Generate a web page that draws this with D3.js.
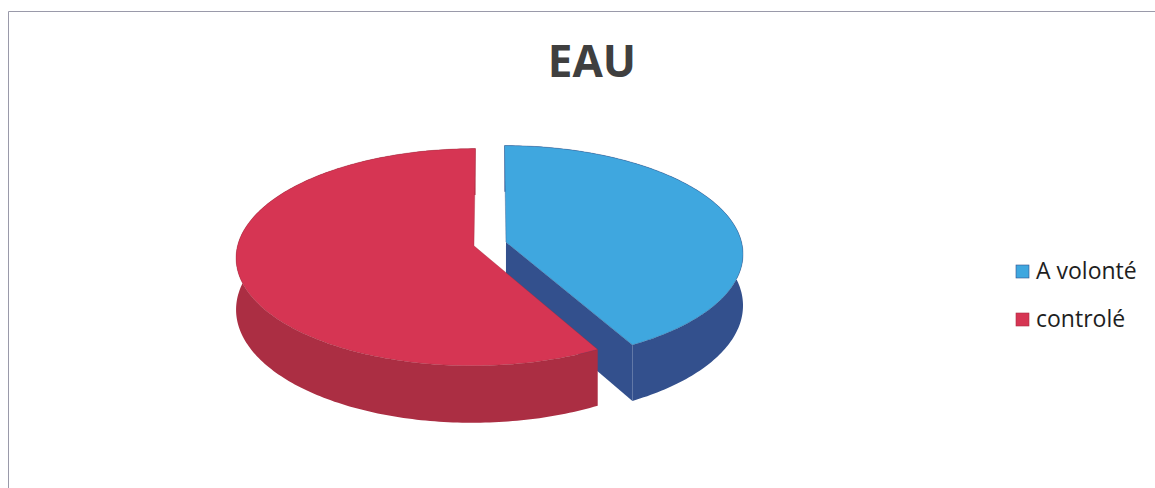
<!DOCTYPE html>
<html>
<head>
<meta charset="utf-8">
<script src="https://cdn.jsdelivr.net/npm/d3@7"></script>
<style>
  html, body { margin: 0; padding: 0; background: #fff; }
  svg { display: block; }
</style>
</head>
<body>
<svg id="chart" width="1155" height="488"></svg>
<script>

// données
const titre = "EAU";
const categories = ["A volonté", "controlé"];
const valeurs = [42, 58];
const couleursDessus = ["#3fa7df", "#d63553"];
const couleursCote = ["#33508d", "#ab2e43"];


const largeur = 1155, hauteur = 488;
const svg = d3.select("#chart");

// cadre
svg.append("path")
    .attr("d", "M8.5,488 L8.5,11.5 L1155,11.5")
    .attr("fill", "none")
    .attr("stroke", "#9a9aaa")
    .attr("stroke-width", 1);

// titre
svg.append("text")
    .attr("x", 592)
    .attr("y", 77)
    .attr("text-anchor", "middle")
    .attr("font-family", "'Open Sans', sans-serif")
    .attr("font-weight", "bold")
    .attr("font-size", 44)
    .attr("fill", "#3f3f3f")
    .text(titre);

// géométrie du camembert 3D (projection avec un peu de perspective)
const cx = 490, cy = 244;
const rx = 236, ry = 107;
const epaisseur = 51;
const persp = 0.104;
const eclatement = 0.07;

const couleurDessus = d3.scaleOrdinal().domain(categories).range(couleursDessus);
const couleurCote = d3.scaleOrdinal().domain(categories).range(couleursCote);

const pie = d3.pie().sort(null).startAngle(0).endAngle(2 * Math.PI);
const parts = pie(valeurs).map((d, i) => ({...d, nom: categories[i]}));

function projeter(X, Z, h){
    const s = 1 / (1 - persp * Z);
    return [cx + X * rx * s, cy + Z * ry * s + h * epaisseur * s];
}

const ligne = d3.line().curve(d3.curveLinearClosed);

function pointsArc(d, a0, a1, h){
    const m = (d.startAngle + d.endAngle) / 2;
    const ox = eclatement * Math.sin(m), oz = -eclatement * Math.cos(m);
    const n = Math.max(2, Math.ceil(Math.abs(a1 - a0) / (Math.PI / 180)));
    const pts = [];
    for (let k = 0; k <= n; k++){
        const a = a0 + (a1 - a0) * k / n;
        pts.push(projeter(ox + Math.sin(a), oz - Math.cos(a), h));
    }
    return pts;
}

function centre(d, h){
    const m = (d.startAngle + d.endAngle) / 2;
    return projeter(eclatement * Math.sin(m), -eclatement * Math.cos(m), h);
}

// ordre de dessin : du fond vers l'avant
const ordre = parts.slice().sort((a, b) => {
    const za = -Math.cos((a.startAngle + a.endAngle) / 2);
    const zb = -Math.cos((b.startAngle + b.endAngle) / 2);
    return za - zb;
});

const g = svg.append("g");

ordre.forEach(d => {
    const gp = g.append("g").attr("class", "part");

    // faces radiales visibles
    if (Math.sin(d.startAngle) < -1e-6){
        const t = pointsArc(d, d.startAngle, d.startAngle, 0)[0];
        const b = pointsArc(d, d.startAngle, d.startAngle, 1)[0];
        gp.append("path")
            .attr("d", ligne([centre(d, 0), t, b, centre(d, 1)]))
            .attr("fill", couleurCote(d.nom));
    }
    if (Math.sin(d.endAngle) > 1e-6){
        const t = pointsArc(d, d.endAngle, d.endAngle, 0)[0];
        const b = pointsArc(d, d.endAngle, d.endAngle, 1)[0];
        gp.append("path")
            .attr("d", ligne([centre(d, 0), t, b, centre(d, 1)]))
            .attr("fill", couleurCote(d.nom));
    }

    // bord extérieur
    const haut = pointsArc(d, d.startAngle, d.endAngle, 0);
    const bas = pointsArc(d, d.startAngle, d.endAngle, 1).reverse();
    gp.append("path")
        .attr("d", ligne(haut.concat(bas)))
        .attr("fill", couleurCote(d.nom));

    // dessus
    gp.append("path")
        .attr("d", ligne([centre(d, 0)].concat(haut)))
        .attr("fill", couleurDessus(d.nom))
        .attr("stroke", d3.color(couleurCote(d.nom)).darker(0.3))
        .attr("stroke-width", 0.6)
        .attr("stroke-opacity", 0.6);
});

// légende
const legende = svg.append("g").attr("transform", "translate(1016,264)");
const items = legende.selectAll("g")
    .data(categories)
    .enter().append("g")
        .attr("transform", (d, i) => `translate(0,${i * 48})`);

items.append("rect")
    .attr("width", 13)
    .attr("height", 13)
    .attr("y", 1)
    .attr("fill", d => couleurDessus(d))
    .attr("stroke", d => couleurCote(d))
    .attr("stroke-width", 0.6);

items.append("text")
    .attr("x", 20)
    .attr("y", 15)
    .attr("font-family", "'Open Sans', sans-serif")
    .attr("font-size", 23)
    .attr("fill", "#1e1e1e")
    .text(d => d);

</script>
</body>
</html>
